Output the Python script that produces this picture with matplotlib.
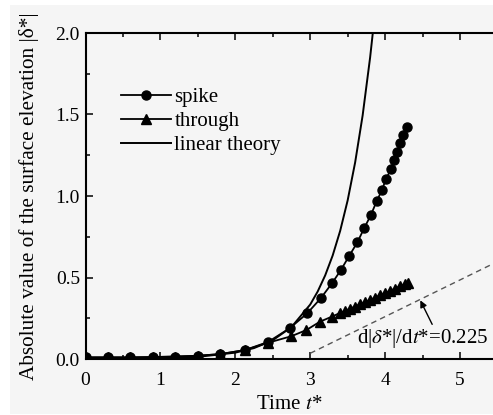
import matplotlib
matplotlib.use("Agg")
import matplotlib.pyplot as plt
from matplotlib.patches import Rectangle
from matplotlib.ticker import MultipleLocator

plt.rcParams['font.family'] = ['Liberation Serif', 'DejaVu Serif']
plt.rcParams['mathtext.fontset'] = 'stix'

# ---- data ----
spike_t = [0.0, 0.3, 0.6, 0.9, 1.2, 1.5, 1.8, 2.13, 2.44, 2.73, 2.96, 3.14, 3.29, 3.41,
           3.52, 3.63, 3.72, 3.81, 3.89, 3.96, 4.01, 4.08, 4.12, 4.16, 4.20, 4.24, 4.29]
spike_y = [0.01, 0.01, 0.01, 0.012, 0.015, 0.02, 0.03, 0.055, 0.105, 0.19, 0.28, 0.372,
           0.464, 0.546, 0.632, 0.716, 0.802, 0.883, 0.971, 1.037, 1.104, 1.164, 1.221,
           1.272, 1.323, 1.374, 1.425]

through_t = [0.0, 0.3, 0.6, 0.9, 1.2, 1.5, 1.8, 2.13, 2.44, 2.75, 2.95, 3.13, 3.29, 3.40,
             3.47, 3.53, 3.60, 3.67, 3.73, 3.80, 3.87, 3.93, 4.00, 4.07, 4.13, 4.20, 4.27, 4.31]
through_y = [0.01, 0.01, 0.01, 0.012, 0.015, 0.02, 0.03, 0.055, 0.10, 0.14, 0.178, 0.229,
             0.26, 0.283, 0.296, 0.308, 0.322, 0.336, 0.349, 0.363, 0.377, 0.390, 0.404,
             0.418, 0.432, 0.446, 0.459, 0.467]

linear_t = [0.0, 0.5, 1.0, 1.5, 2.0, 2.25, 2.5, 2.75, 3.0, 3.1, 3.2, 3.3, 3.4, 3.5,
            3.6, 3.7, 3.8, 3.85]
linear_y = [0.0005, 0.0016, 0.0046, 0.013, 0.039, 0.067, 0.115, 0.196, 0.334, 0.414,
            0.513, 0.635, 0.786, 0.973, 1.206, 1.494, 1.85, 2.06]

slope_t = [3.0, 5.5]
slope_y = [0.035, 0.5975]

labels = ['spike', 'through', 'linear theory']
x_ticks = [0, 1, 2, 3, 4, 5]
y_ticks = [0.0, 0.5, 1.0, 1.5, 2.0]

W, H = 493, 415
fig = plt.figure(figsize=(W / 100, H / 100), dpi=100)
fig.patch.set_facecolor('white')
fig.patches.append(Rectangle((10 / W, 1.5 / H), 1 - 10 / W, 1 - 6.5 / H,
                             transform=fig.transFigure, facecolor='#f5f5f5',
                             edgecolor='none', zorder=-10))

ax = fig.add_axes([85.5 / W, (H - 359) / H, (W - 85.5) / W, (359 - 33) / H])
ax.set_facecolor('#f5f5f5')

ax.plot(spike_t, spike_y, color='black', lw=1.3, marker='o', ms=6.5,
        label=labels[0])
ax.plot(through_t, through_y, color='black', lw=1.3, marker='^', ms=6.5,
        label=labels[1])
ax.plot(linear_t, linear_y, color='black', lw=1.4, label=labels[2])
ax.plot(slope_t, slope_y, color='#555555', lw=1.0, dashes=(4, 3))

ax.annotate(r'd|$\delta$*|/d$t$*=0.225', xy=(4.47, 0.36), xytext=(3.63, 0.125),
            fontsize=15, va='center', ha='left',
            arrowprops=dict(arrowstyle='-|>', color='black', lw=1.0,
                            mutation_scale=10, shrinkA=0, shrinkB=0,
                            relpos=(0.58, 1.0)))

xmax = (W - 85.5) / 74.9
ax.set_xlim(0, xmax)
ax.set_ylim(0, 2.0)
ax.set_xticks(x_ticks)
ax.set_yticks(y_ticks)
ax.set_yticklabels([f'{v:.1f}' for v in y_ticks])
ax.xaxis.set_minor_locator(MultipleLocator(0.5))
ax.yaxis.set_minor_locator(MultipleLocator(0.25))
ax.tick_params(which='both', direction='in', top=True, right=False,
               labelsize=14, width=1.1, pad=4)
ax.tick_params(axis='x', which='major', pad=9)
ax.tick_params(which='major', length=5)
ax.tick_params(which='minor', length=3)
for s in ['left', 'bottom', 'top']:
    ax.spines[s].set_linewidth(1.5)
ax.spines['right'].set_visible(False)

ax.set_xlabel(r'Time $t$*', fontsize=15, labelpad=5)
ax.set_ylabel('Absolute value of the surface elevation |δ*|', fontsize=15.3, labelpad=12)

ax.legend(loc='upper left', bbox_to_anchor=(0.088, 0.832), frameon=False,
          fontsize=15, handlelength=2.4, handletextpad=0.15, labelspacing=0.2,
          borderpad=0, borderaxespad=0)

fig.savefig('out.png', dpi=100, facecolor=fig.get_facecolor())
